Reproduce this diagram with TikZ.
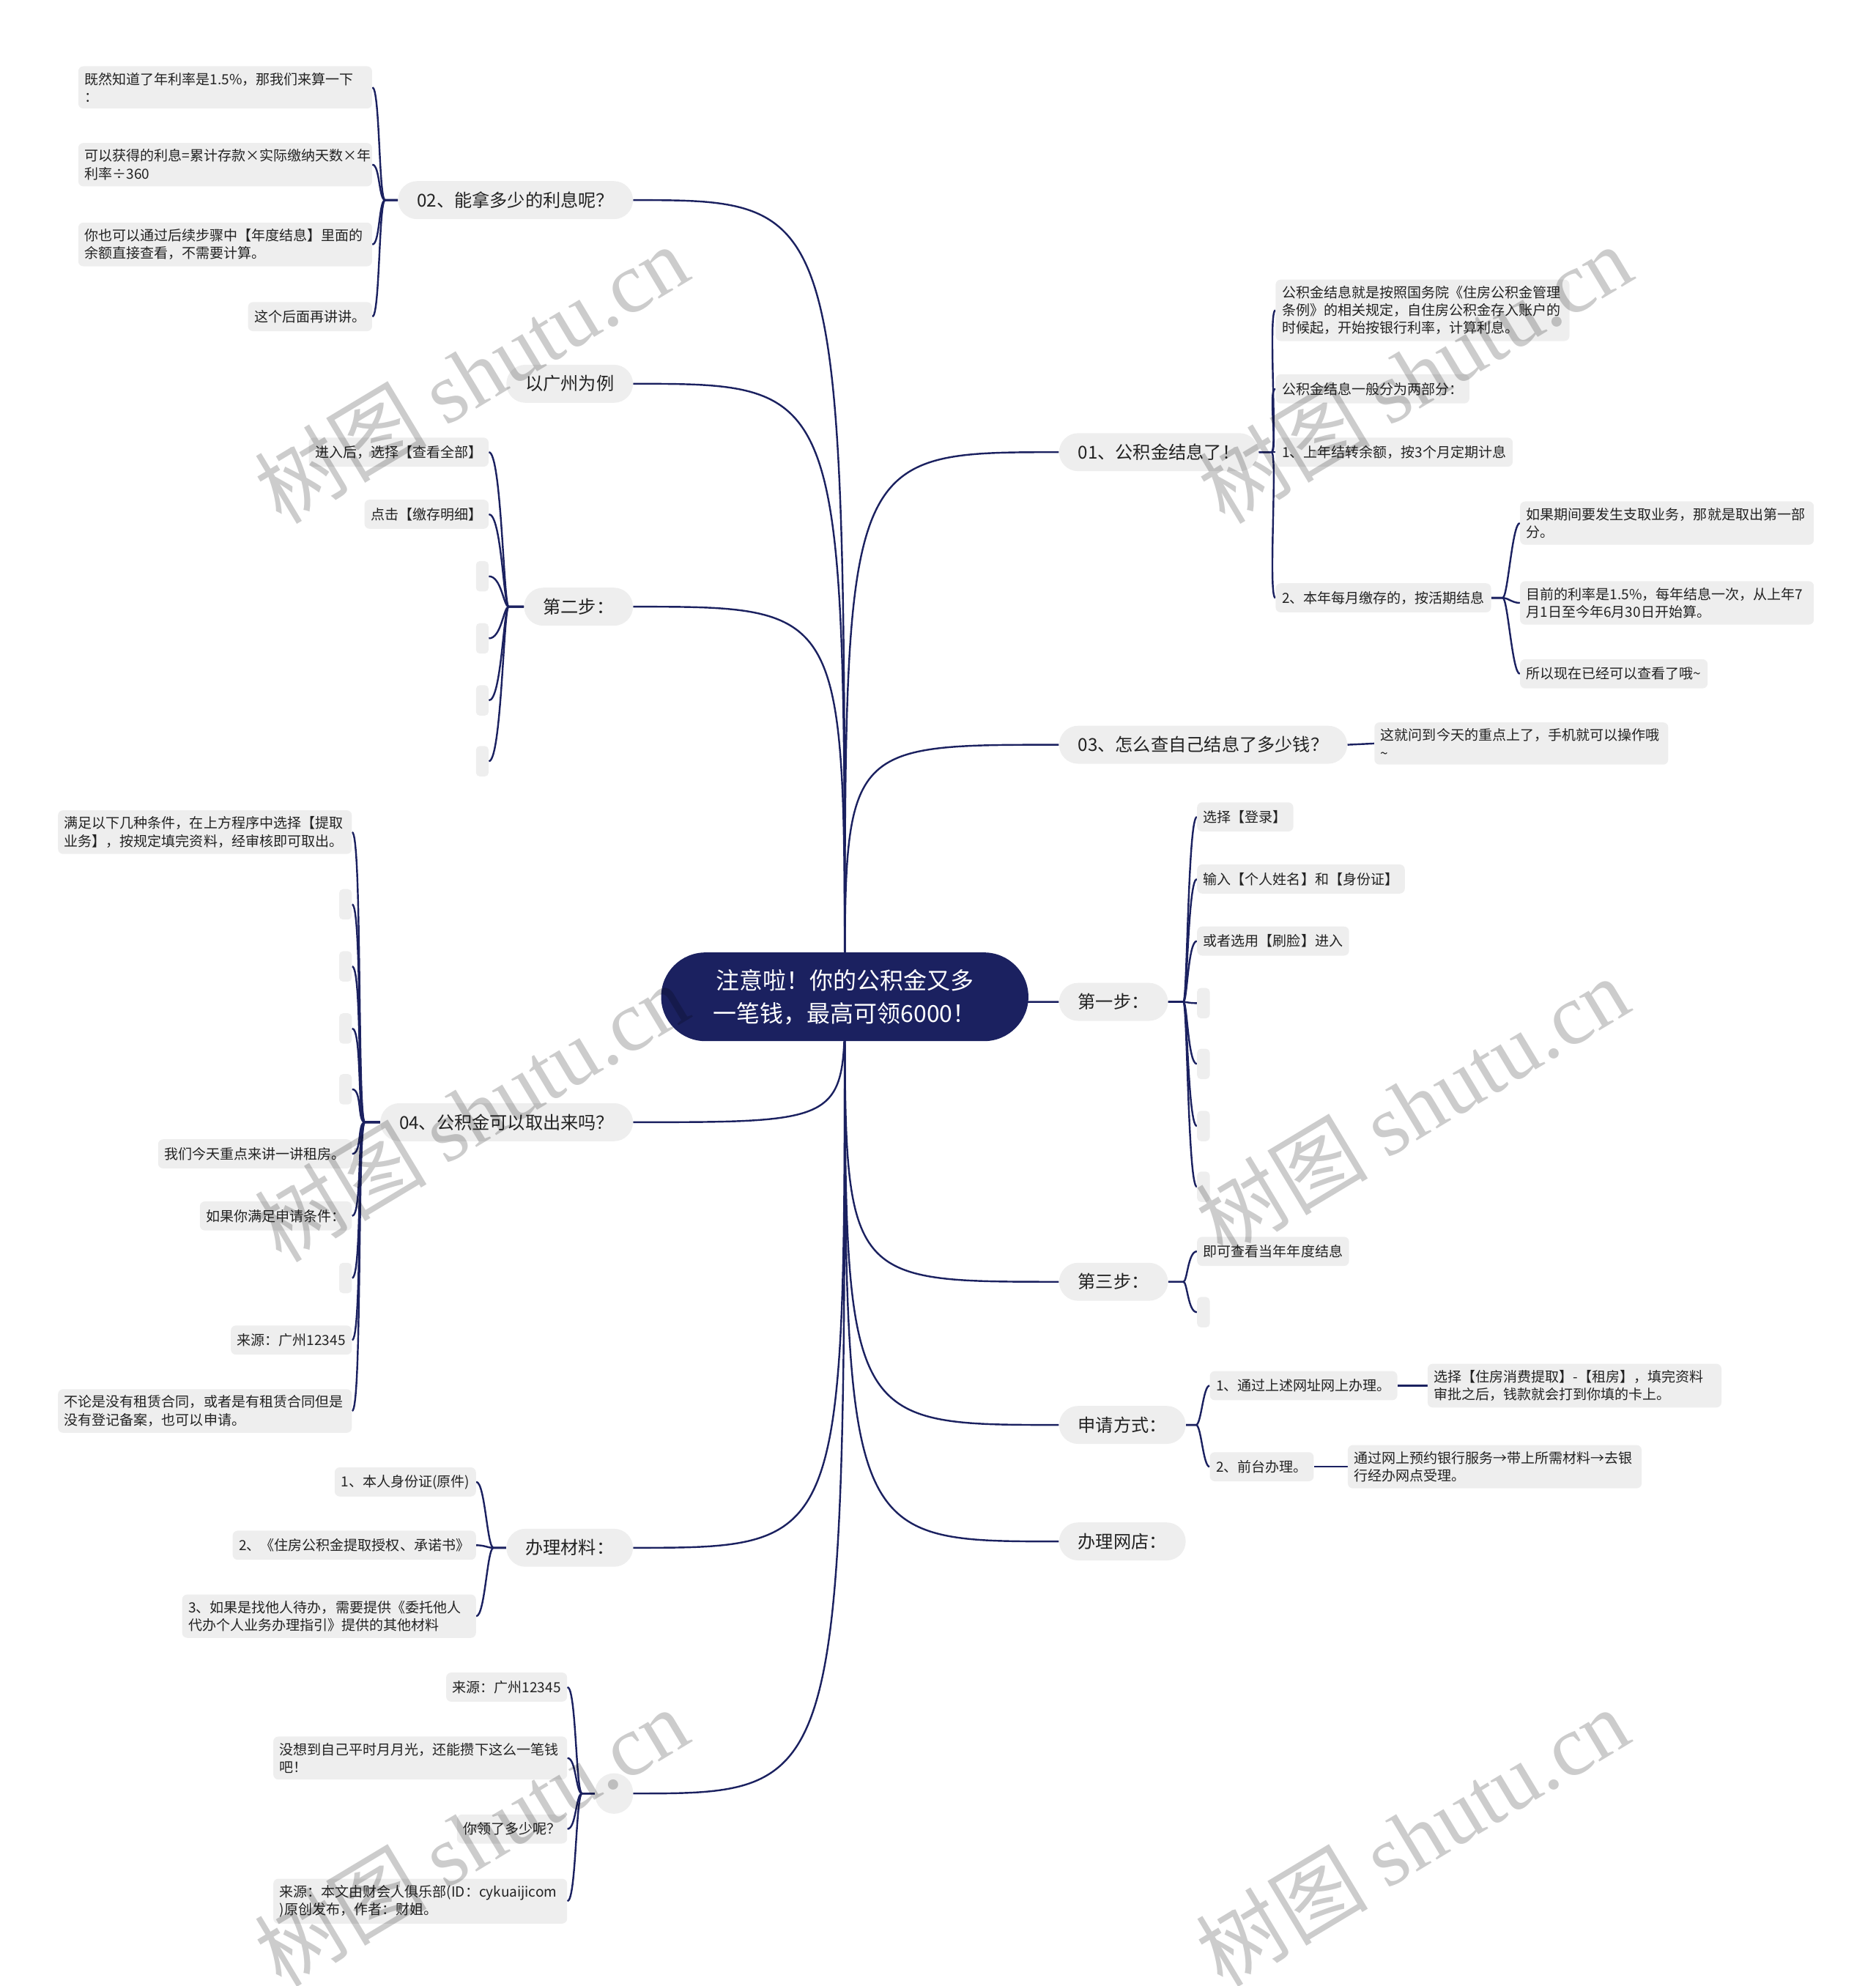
\documentclass[tikz,border=0pt]{standalone}
\usepackage{fontspec}
\setmainfont{Noto Sans CJK SC}
\newfontfamily\wmserif{Liberation Serif}
\usetikzlibrary{backgrounds}
\definecolor{navy}{HTML}{1B2160}
\definecolor{leafgray}{HTML}{EEEEEE}
\definecolor{txt}{HTML}{222222}
\tikzset{
 rootnode/.style={fill=navy, text=white, rounded corners=35pt, minimum width=290pt, minimum height=70pt, align=center, font=\fontsize{18.5}{26}\selectfont, inner sep=0pt},
 branch/.style={fill=leafgray, text=txt, rounded corners=15pt, minimum height=30pt, inner xsep=15pt, inner ysep=0pt, font=\fontsize{14}{16}\selectfont},
 leaf/.style={fill=leafgray, text=txt, rounded corners=4pt, minimum height=23pt, inner xsep=5pt, inner ysep=5pt, align=left, font=\fontsize{11}{14}\selectfont},
 wide/.style={leaf, text width=222pt},
 blank/.style={fill=leafgray, rounded corners=3pt, minimum width=10pt, minimum height=24pt, inner sep=0pt},
 conn/.style={draw=navy, line width=1.4pt},
 wm/.style={text=black, text opacity=0.2, font=\fontsize{68}{68}\selectfont, rotate=31, inner sep=0pt}
}
\newcommand\leftbr[5]{\foreach \c in {#5} {\draw[conn] (#1.west) -- ++(-#2,0) .. controls +(-#3,0) and +(#4,0) .. (\c.east);}}
\newcommand\rightbr[5]{\foreach \c in {#5} {\draw[conn] (#1.east) -- ++(#2,0) .. controls +(#3,0) and +(-#4,0) .. (\c.west);}}
\begin{document}
\begin{tikzpicture}[x=1pt,y=-1pt]
\useasboundingbox (0,0) rectangle (1481,1568);
% root
\node[rootnode] (root) at (667,787) {注意啦！你的公积金又多\\一笔钱，最高可领6000！};
% left branches
\node[branch, anchor=east] (b02) at (500,158) {02、能拿多少的利息呢？};
\node[branch, anchor=east] (bgz) at (500,303) {以广州为例};
\node[branch, anchor=east] (bs2) at (500,479) {第二步：};
\node[branch, anchor=east] (b04) at (500,886) {04、公积金可以取出来吗？};
\node[branch, anchor=east] (bcl) at (500,1222) {办理材料：};
\node[branch, anchor=east, minimum width=30pt, minimum height=32pt, inner sep=0pt] (bemp) at (500,1416) {};
% right branches
\node[branch, anchor=west] (b01) at (836,357) {01、公积金结息了！};
\node[branch, anchor=west] (b03) at (836,588) {03、怎么查自己结息了多少钱？};
\node[branch, anchor=west] (bs1) at (836,791) {第一步：};
\node[branch, anchor=west] (bs3) at (836,1012) {第三步：};
\node[branch, anchor=west] (bsq) at (836,1125) {申请方式：};
\node[branch, anchor=west] (bwd) at (836,1217) {办理网店：};
% 02 leaves
\node[wide, anchor=east] (l21) at (294,69) {既然知道了年利率是1.5\%，那我们来算一下\\：};
\node[wide, anchor=east] (l22) at (294,130) {可以获得的利息=累计存款×实际缴纳天数×年\\利率÷360};
\node[wide, anchor=east] (l23) at (294,193) {你也可以通过后续步骤中【年度结息】里面的\\余额直接查看，不需要计算。};
\node[leaf, anchor=east] (l24) at (294,250) {这个后面再讲讲。};
% step 2 leaves
\node[leaf, anchor=east] (l2a) at (386,357) {进入后，选择【查看全部】};
\node[leaf, anchor=east] (l2b) at (386,406) {点击【缴存明细】};
\node[blank, anchor=east] (e2a) at (386,455) {};
\node[blank, anchor=east] (e2b) at (386,504) {};
\node[blank, anchor=east] (e2c) at (386,553) {};
\node[blank, anchor=east] (e2d) at (386,601) {};
% 04 leaves
\node[wide, anchor=east] (l4a) at (278,657) {满足以下几种条件，在上方程序中选择【提取\\业务】，按规定填完资料，经审核即可取出。};
\node[blank, anchor=east] (e4a) at (278,714) {};
\node[blank, anchor=east] (e4b) at (278,763) {};
\node[blank, anchor=east] (e4c) at (278,812) {};
\node[blank, anchor=east] (e4d) at (278,860) {};
\node[leaf, anchor=east] (l4b) at (278,911) {我们今天重点来讲一讲租房。};
\node[leaf, anchor=east] (l4c) at (278,960) {如果你满足申请条件：};
\node[blank, anchor=east] (e4e) at (278,1009) {};
\node[leaf, anchor=east] (l4d) at (278,1058) {来源：广州12345};
\node[wide, anchor=east] (l4e) at (278,1114) {不论是没有租赁合同，或者是有租赁合同但是\\没有登记备案，也可以申请。};
% materials leaves
\node[leaf, anchor=east] (lc1) at (376,1170) {1、本人身份证(原件)};
\node[leaf, anchor=east] (lc2) at (376,1220) {2、《住房公积金提取授权、承诺书》};
\node[wide, anchor=east] (lc3) at (376,1276) {3、如果是找他人待办，需要提供《委托他人\\代办个人业务办理指引》提供的其他材料};
% bottom empty branch leaves
\node[leaf, anchor=east] (lb1) at (448,1332) {来源：广州12345};
\node[wide, anchor=east] (lb2) at (448,1388) {没想到自己平时月月光，还能攒下这么一笔钱\\吧！};
\node[leaf, anchor=east] (lb3) at (448,1444) {你领了多少呢？};
\node[wide, anchor=east] (lb4) at (448,1501) {来源：本文由财会人俱乐部(ID：cykuaijicom\\)原创发布，作者：财姐。};
% 01 leaves
\node[wide, anchor=west] (l1a) at (1007,245) {公积金结息就是按照国务院《住房公积金管理\\条例》的相关规定，自住房公积金存入账户的\\时候起，开始按银行利率，计算利息。};
\node[leaf, anchor=west] (l1b) at (1007,307) {公积金结息一般分为两部分：};
\node[leaf, anchor=west] (l1c) at (1007,357) {1、上年结转余额，按3个月定期计息};
\node[leaf, anchor=west] (l1d) at (1007,472) {2、本年每月缴存的，按活期结息};
\node[wide, anchor=west] (l1e) at (1200,413) {如果期间要发生支取业务，那就是取出第一部\\分。};
\node[wide, anchor=west] (l1f) at (1200,476) {目前的利率是1.5\%，每年结息一次，从上年7\\月1日至今年6月30日开始算。};
\node[leaf, anchor=west] (l1g) at (1200,532) {所以现在已经可以查看了哦\textasciitilde};
% 03 leaf
\node[wide, anchor=west] (l3a) at (1085,587) {这就问到今天的重点上了，手机就可以操作哦\\\textasciitilde};
% step 1 leaves
\node[leaf, anchor=west] (ls1a) at (945,645) {选择【登录】};
\node[leaf, anchor=west] (ls1b) at (945,694) {输入【个人姓名】和【身份证】};
\node[leaf, anchor=west] (ls1c) at (945,743) {或者选用【刷脸】进入};
\node[blank, anchor=west] (es1a) at (945,792) {};
\node[blank, anchor=west] (es1b) at (945,840) {};
\node[blank, anchor=west] (es1c) at (945,889) {};
\node[blank, anchor=west] (es1d) at (945,937) {};
% step 3 leaves
\node[leaf, anchor=west] (ls3a) at (945,988) {即可查看当年年度结息};
\node[blank, anchor=west] (es3a) at (945,1036) {};
% apply leaves
\node[leaf, anchor=west] (lq1) at (955,1094) {1、通过上述网址网上办理。};
\node[leaf, anchor=west] (lq2) at (955,1158) {2、前台办理。};
\node[wide, anchor=west] (lq1a) at (1127,1094) {选择【住房消费提取】-【租房】，填完资料\\审批之后，钱款就会打到你填的卡上。};
\node[wide, anchor=west] (lq2a) at (1064,1158) {通过网上预约银行服务→带上所需材料→去银\\行经办网点受理。};
% connectors
\begin{pgfonlayer}{background}
\foreach \b in {b02,bgz,bs2,b04,bcl,bemp} {\draw[conn] (root.center) .. controls (\b.east -| root.center) .. (\b.east);}
\foreach \b in {b01,b03,bs1,bs3,bsq,bwd} {\draw[conn] (root.center) .. controls (\b.west -| root.center) .. (\b.west);}
\leftbr{b02}{10}{5}{6}{l21,l22,l23,l24}
\leftbr{bs2}{12}{4}{10}{l2a,l2b,e2a,e2b,e2c,e2d}
\leftbr{b04}{12}{6}{8}{l4a,e4a,e4b,e4c,e4d,l4b,l4c,e4e,l4d,l4e}
\leftbr{bcl}{10}{5}{7}{lc1,lc2,lc3}
\leftbr{bemp}{10}{5}{7}{lb1,lb2,lb3,lb4}
\rightbr{b01}{10}{5}{6}{l1a,l1b,l1c,l1d}
\rightbr{l1d}{9}{4}{6}{l1e,l1f,l1g}
\rightbr{bs1}{12}{3}{7}{ls1a,ls1b,ls1c,es1a,es1b,es1c,es1d}
\rightbr{bs3}{12}{3}{7}{ls3a,es3a}
\rightbr{bsq}{8}{4}{5}{lq1,lq2}
\draw[conn] (b03.east) -- (l3a.west);
\draw[conn] (lq1.east) -- (lq1a.west);
\draw[conn] (lq2.east) -- (lq2a.west);
\end{pgfonlayer}
% watermarks
\foreach \p [count=\i] in {(372,295),(1117,295),(372,878),(1115,873),(372,1450),(1115,1450)}
  {\node[wm] (wm\i) at \p {树图 {\wmserif shutu.cn}};}
\end{tikzpicture}
\end{document}
